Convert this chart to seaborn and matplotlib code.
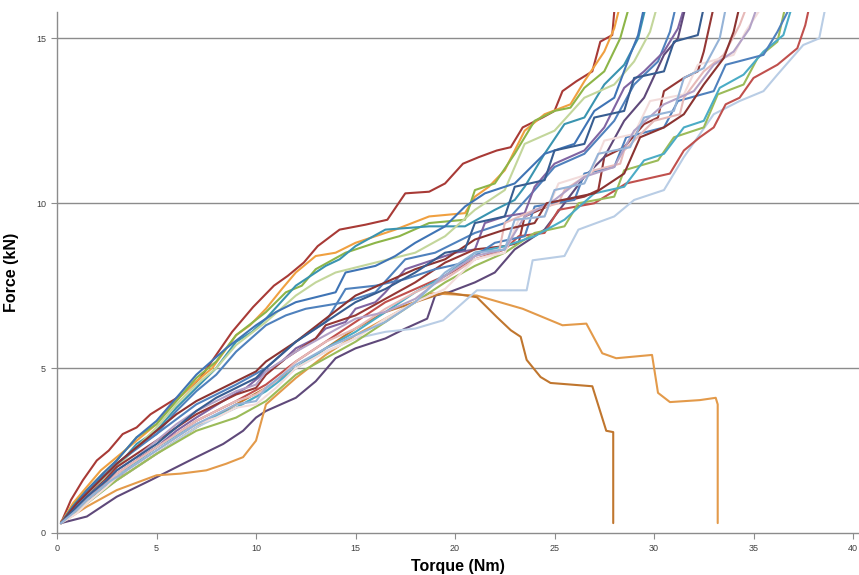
import matplotlib
matplotlib.use("Agg")
import matplotlib.pyplot as plt
import seaborn as sns
import pandas as pd

# ---- data: (torque Nm, force kN) ----
darkred_x = [0.2,0.7,1.3,2.0,2.6,3.3,4.0,4.7,5.5,6.3,7.2,8.0,8.8,9.85,10.9,11.6,12.4,13.1,14.2,15.5,16.6,17.5,18.7,19.5,20.4,21.2,22.1,22.8,23.4,24.4,25.0,25.4,26.1,26.9,27.3,27.9,28.1]
darkred_y = [0.3,1.0,1.6,2.2,2.5,3.0,3.2,3.6,3.9,4.2,4.7,5.4,6.1,6.85,7.5,7.8,8.2,8.7,9.2,9.35,9.5,10.3,10.35,10.6,11.2,11.4,11.6,11.7,12.3,12.6,12.8,13.4,13.7,14.0,14.9,15.1,16.5]

orange_x = [0.2,0.8,1.5,2.2,3,3.8,5,5.8,7,7.8,9,9.7,10.5,11.3,12,13,14,15,16,17,18.7,19.6,20.5,21,21.7,22.5,23.5,24.5,25.8,26.5,27.5,28,28.5]
orange_y = [0.3,0.9,1.4,1.9,2.3,2.7,3.3,3.9,4.6,5.0,6.0,6.3,6.8,7.4,7.9,8.4,8.5,8.8,9.0,9.2,9.6,9.65,9.7,10.2,10.5,11.0,12.2,12.7,13.0,13.7,14.6,15.3,16.5]

green_x = [0.2,0.9,1.5,2.3,3,4,5,6,7,8,9,10.5,11.5,12.3,13,14.5,16,17.2,18.7,20.5,21,22,23,23.5,24,25,25.8,26.5,27.5,28.3,29]
green_y = [0.3,0.9,1.3,1.8,2.2,2.9,3.3,4.0,4.7,5.2,6.0,6.7,7.3,7.5,8.0,8.5,8.8,9.0,9.4,9.5,10.4,10.6,11.5,12.0,12.5,12.8,12.9,13.5,14.0,15.0,16.5]

teal_x = [0.2,0.8,1.5,2.2,3,4,5,6,7,8,9,9.8,10.5,12,13.5,14.2,15,16.5,18.7,20.5,22,23,23.5,24.5,25.5,26.5,27.5,28.5,29.2,29.8]
teal_y = [0.3,0.8,1.2,1.7,2.0,2.7,3.1,3.8,4.4,5.0,5.8,6.1,6.5,7.5,8.1,8.3,8.7,9.2,9.3,9.3,9.8,10.1,10.5,11.5,12.4,12.6,13.6,14.2,15.0,16.5]

lightgreen_x = [0.2,1,1.5,2.3,3,4,5,6,7,8,9,10.5,12,13,14,16,18,19.5,21,22.5,23.5,25,26.5,28,29,29.8,30.4]
lightgreen_y = [0.3,0.8,1.1,1.6,2.0,2.6,3.2,3.9,4.5,5.0,5.7,6.4,7.2,7.6,7.9,8.2,8.5,9.0,9.8,10.4,11.8,12.2,13.2,13.6,14.3,15.2,16.5]

blue_x = [0.2,0.8,1.5,2.3,3,4,5,6,7,8,9,10.5,11.5,12.5,14.5,16,17.5,19,20,21,22.5,24,25,26.5,28,29,30.2,30.8,31.3]
blue_y = [0.3,0.7,1.2,1.7,2.1,2.6,3.0,3.7,4.3,4.8,5.5,6.3,6.6,6.8,7.0,7.3,8.3,8.5,8.8,9.1,9.4,10.4,11.1,11.5,12.5,13.6,14.3,15.2,16.5]

blue2_x = [0.2,0.8,1.5,2.3,3,4,5,6,7,8.5,10,11,12,14,14.5,16,17,18,19.5,20.5,21.5,23,24.5,26,27,28,28.8,29.2,29.7]
blue2_y = [0.3,0.8,1.3,1.8,2.2,2.9,3.4,4.1,4.8,5.6,6.3,6.7,7.0,7.3,7.9,8.1,8.4,8.8,9.3,9.9,10.3,10.6,11.5,11.8,12.8,13.2,14.5,15.1,16.5]

purple_x = [0.2,0.8,1.5,2.5,3.3,4.2,5,6,7,7.8,8.6,9.5,10.5,11.3,12,13,13.5,14.5,15,16,16.5,17.5,19,20,21,21.5,22.5,23.5,24,25,26.5,27.5,28.5,29.5,30.5,31.2,31.8]
purple_y = [0.3,0.7,1.0,1.5,1.8,2.3,2.6,3.1,3.5,3.8,4.1,4.4,4.9,5.2,5.6,5.9,6.2,6.4,6.8,7.0,7.3,8.0,8.3,8.5,8.6,9.4,9.6,9.7,10.5,11.2,11.6,12.3,13.5,14.0,14.6,15.3,16.5]

darkred2_x = [0.2,0.9,1.5,2.4,3,4,5,6,7,8,9,10,10.5,11.5,12,13,13.5,14.5,15,16.5,18,19.5,21,22.5,23.2,23.5,25,26.5,27.2,27.5,28.5,29.5,30.2,30.5,31.5,32.2,32.5,33.2]
darkred2_y = [0.3,0.7,1.1,1.6,2.0,2.4,2.8,3.2,3.6,3.9,4.2,4.4,4.8,5.3,5.5,5.9,6.3,6.5,6.6,7.1,7.6,8.2,8.6,8.7,8.8,9.6,10.0,10.2,10.4,11.4,11.7,12.4,12.6,13.4,13.8,14.0,14.6,16.5]

darkpurple_x = [0.2,1.5,3,4.7,7.0,8.35,9.35,10.0,10.5,12,13,14,15,16.5,17.5,18.6,19,19.7,21,22,23,24.5,25.5,26.5,27.5,28.5,29.5,30.5,31.2,31.8]
darkpurple_y = [0.3,0.5,1.1,1.6,2.3,2.7,3.1,3.5,3.7,4.1,4.6,5.3,5.6,5.9,6.2,6.5,7.2,7.3,7.6,7.9,8.6,9.2,10.0,10.8,11.4,12.5,13.2,14.5,15.0,16.5]

orangeB_x = [0.2,1.5,3,5,6.2,7.5,8.5,9.35,10,10.5,12,13.5,15,16.5,18,18.7,21.1,23.4,25.4,26.6,27.4,28.1,29.9,30.2,30.8,32.3,33.1,33.2,33.2]
orangeB_y = [0.3,0.8,1.3,1.75,1.8,1.9,2.1,2.3,2.8,3.9,4.7,5.4,6.0,6.5,7.0,7.27,7.2,6.8,6.3,6.35,5.45,5.3,5.4,4.25,3.97,4.03,4.1,3.9,0.3]

orangeA_x = [0.2,1.5,3,5,7,9,10.5,12,13.5,15,16.5,18,19.5,21.1,22.1,22.8,23.3,23.6,24.3,24.8,26.9,27.6,27.95,27.95]
orangeA_y = [0.35,1.0,1.6,2.4,3.2,3.9,4.4,5.0,5.6,6.2,6.7,7.0,7.3,7.15,6.55,6.15,5.95,5.25,4.73,4.55,4.45,3.1,3.06,0.3]

lightblue_x = [0.2,1.5,3,5,7,9,10.5,12,13.5,15,16.5,18,19.4,21.1,23.6,23.9,25.5,26.2,28,29,30.5,31.5,33,34.3,35.5,36.2,37.5,38.3,38.8]
lightblue_y = [0.3,0.9,1.6,2.4,3.2,3.8,4.3,5.0,5.5,5.9,6.1,6.2,6.45,7.36,7.36,8.27,8.4,9.2,9.6,10.1,10.4,11.4,12.7,13.1,13.4,13.9,14.8,15.0,16.5]

red2_x = [0.2,1.5,3,5,7,9,10.5,12,13.5,15,16.5,18,19.5,21,22.5,23.2,24.5,25.2,27,28.6,30.8,31.5,32.3,33.0,33.6,34.3,35.0,36.2,37.2,37.6,38.0]
red2_y = [0.3,1.0,1.8,2.6,3.4,4.0,4.5,5.2,5.8,6.4,7.0,7.4,7.8,8.3,8.6,9.0,9.1,9.8,10.0,10.6,10.9,11.6,12.0,12.3,13.0,13.2,13.8,14.2,14.7,15.4,16.5]

green2_x = [0.2,1.5,3,5,7,9,10.5,12,13.5,15,16.5,18,19.5,21,22.5,24,25.5,26.2,28,28.5,30.2,31,32.5,33.2,34.5,35.2,36.2,36.8]
green2_y = [0.3,0.9,1.6,2.4,3.1,3.5,4.0,4.8,5.3,5.8,6.4,7.0,7.6,8.1,8.5,9.1,9.3,10.0,10.2,11.0,11.3,12.0,12.3,13.3,13.6,14.4,14.9,16.5]

teal2_x = [0.2,1.5,3,5,7,9,10.5,12,13.5,15,16.5,18,19.5,21,22.5,24,25.5,27,28.5,29.5,30.5,31.5,32.5,33.3,34.5,35.5,36.5,37.2]
teal2_y = [0.3,1.0,1.7,2.6,3.3,3.8,4.3,5.0,5.6,6.1,6.7,7.3,7.8,8.5,8.7,9.0,9.5,10.3,10.5,11.3,11.5,12.3,12.5,13.5,13.9,14.6,15.1,16.5]

blue3_x = [0.2,1.5,3,5,7,9,10.5,12,13.5,14.5,16,17.5,19,20.5,22,23.5,24,26,26.5,28,28.6,30.5,31.2,33,33.6,35.5,36.2,37.3]
blue3_y = [0.3,1.2,2.1,3.0,3.9,4.5,5.0,5.8,6.4,7.4,7.5,7.7,8.0,8.2,8.8,9.0,9.9,10.1,10.9,11.1,12.0,12.3,13.1,13.4,14.2,14.5,15.2,16.5]

pink_x = [0.2,1,1.5,2.5,3,4,5,6,7,8,9,10,11,12,13,13.5,15,16.5,18,19.5,21,22.2,22.5,24,25.2,25.5,27,28.3,28.5,30,31.3,31.5,32.5,33.5,34.3,35.0]
pink_y = [0.3,0.7,1.0,1.5,1.8,2.2,2.6,3.0,3.4,3.7,4.0,4.2,4.6,5.2,5.6,5.8,6.2,6.8,7.3,7.7,8.3,8.5,9.4,9.8,10.0,10.4,11.0,11.2,11.6,12.5,12.7,13.2,14.0,14.5,15.4,16.5]

lightpink_x = [0.2,1,1.5,2.5,3,4,5,6,7,8,9,10,11,12,13.5,15,16.5,18,19.5,21,22.5,23.2,24.5,25.2,26.8,27.5,29,29.8,31.5,32.2,34,34.6,36.0]
lightpink_y = [0.3,0.6,0.9,1.4,1.7,2.1,2.5,2.9,3.3,3.5,3.8,3.9,4.4,5.0,5.5,5.9,6.5,7.0,7.4,8.3,8.5,9.5,9.6,10.6,10.9,11.9,12.1,13.1,13.3,14.2,14.5,15.2,16.5]

lavender_x = [0.2,1,1.5,2.5,3,4,5,6,7,8,9,10,10.5,12,13.5,15,16.5,18,19.5,21,22.5,23.5,25,26.5,28,29,30.5,32,33,34,34.8,35.5]
lavender_y = [0.3,0.8,1.1,1.6,1.9,2.3,2.8,3.3,3.7,4.0,4.3,4.5,4.9,5.5,6.0,6.5,6.7,7.1,7.8,8.4,8.6,9.6,10.1,10.8,11.1,12.2,13.0,13.4,14.2,14.6,15.3,16.5]

darkred3_x = [0.2,1,1.5,2.5,3,4,5,6,7,8,9,10,10.5,12,13.5,15,16.5,18,19.5,21,22.5,24,24.6,27,28.5,29.3,30.5,31.5,32.5,33.5,34,34.5]
darkred3_y = [0.3,0.9,1.2,1.8,2.1,2.6,3.1,3.6,4.0,4.3,4.6,4.9,5.2,5.8,6.5,7.2,7.6,8.0,8.3,8.9,9.2,9.4,10.0,10.3,10.9,12.0,12.3,12.7,13.6,14.4,15.2,16.5]

bluedark_x = [0.2,1,1.5,2.5,3,4,5,6,7,8,9,10,10.5,12,13.5,15,16.5,18,19.5,20.5,21,22.5,23,24.5,25,26.5,27,28.5,29,30.5,31,32.2,32.7]
bluedark_y = [0.3,0.8,1.1,1.6,1.9,2.3,2.7,3.2,3.7,4.1,4.4,4.7,5.0,5.8,6.4,7.0,7.4,7.9,8.5,8.6,9.4,9.6,10.5,10.7,11.6,11.8,12.6,12.8,13.8,14.0,14.9,15.1,16.5]

skyblue_x = [0.2,1,1.5,2.5,3,4,5,6,7,8,9,10,10.5,12,13.5,15,16.5,18,19.5,21,22.5,23,24.5,25,26.5,27.2,28.8,29.5,31,31.5,32.5,33.3,33.8]
skyblue_y = [0.3,0.7,1.0,1.5,1.7,2.1,2.5,2.9,3.3,3.6,3.9,4.0,4.4,5.1,5.6,6.0,6.4,7.0,7.9,8.5,8.6,9.5,9.6,10.4,10.6,11.5,11.7,12.6,12.8,13.8,14.1,15.0,16.5]

series = {
    "darkred": (darkred_x, darkred_y, "#A83A36"),
    "orange": (orange_x, orange_y, "#F0A040"),
    "green": (green_x, green_y, "#8DB548"),
    "teal": (teal_x, teal_y, "#3A94B0"),
    "lightgreen": (lightgreen_x, lightgreen_y, "#C3D69B"),
    "blue": (blue_x, blue_y, "#4F81BD"),
    "blue2": (blue2_x, blue2_y, "#3F74B5"),
    "purple": (purple_x, purple_y, "#8064A2"),
    "darkred2": (darkred2_x, darkred2_y, "#953735"),
    "darkpurple": (darkpurple_x, darkpurple_y, "#5F497A"),
    "orangeB": (orangeB_x, orangeB_y, "#E39A4A"),
    "orangeA": (orangeA_x, orangeA_y, "#C0762E"),
    "lightblue": (lightblue_x, lightblue_y, "#B9CDE5"),
    "red2": (red2_x, red2_y, "#C0504D"),
    "green2": (green2_x, green2_y, "#9BBB59"),
    "teal2": (teal2_x, teal2_y, "#4BACC6"),
    "blue3": (blue3_x, blue3_y, "#4F81BD"),
    "pink": (pink_x, pink_y, "#E6B9B8"),
    "lightpink": (lightpink_x, lightpink_y, "#F2DCDB"),
    "lavender": (lavender_x, lavender_y, "#B3A2C7"),
    "darkred3": (darkred3_x, darkred3_y, "#8B3331"),
    "bluedark": (bluedark_x, bluedark_y, "#375D91"),
    "skyblue": (skyblue_x, skyblue_y, "#95B3D7"),
}

x_ticks = [0, 5, 10, 15, 20, 25, 30, 35, 40]
y_ticks = [0, 5, 10, 15]

rows = []
for name, (xs, ys, _c) in series.items():
    for i, (xv, yv) in enumerate(zip(xs, ys)):
        rows.append({"series": name, "idx": i, "torque": xv, "force": yv})
df = pd.DataFrame(rows)
palette = {k: v[2] for k, v in series.items()}

sns.set_theme(style="white")
plt.rcParams["font.family"] = ["Liberation Sans", "DejaVu Sans"]

fig = plt.figure(figsize=(8.59, 5.75), dpi=100)
ax = fig.add_axes([57/859, 1 - 533/575, 802/859, (533 - 12)/575])

for yv in [5, 10, 15]:
    ax.axhline(yv, color="#8c8c8c", lw=1.0, zorder=0)

sns.lineplot(data=df, x="torque", y="force", hue="series", palette=palette,
             sort=False, estimator=None, legend=False, linewidth=1.5, ax=ax)
for ln in ax.get_lines():
    ln.set_solid_joinstyle("round")
    ln.set_solid_capstyle("round")

ax.set_xlim(0, 40.3)
ax.set_ylim(0, 15.8)
ax.set_xticks(x_ticks)
ax.set_yticks(y_ticks)
ax.set_xticklabels([str(t) for t in x_ticks])
ax.set_yticklabels([str(t) for t in y_ticks])
ax.tick_params(axis="both", labelsize=6.5, colors="#404040", length=4, width=0.8,
               direction="out", pad=4)
ax.tick_params(axis="both", color="#8c8c8c")
ax.xaxis.set_ticks_position("bottom")
ax.yaxis.set_ticks_position("left")

for side in ["top", "right"]:
    ax.spines[side].set_visible(False)
for side in ["left", "bottom"]:
    ax.spines[side].set_color("#8c8c8c")
    ax.spines[side].set_linewidth(1.0)

ax.set_xlabel("Torque (Nm)", fontsize=11.5, fontweight="bold", color="black", labelpad=4)
ax.set_ylabel("Force (kN)", fontsize=11.5, fontweight="bold", color="black", labelpad=12)
ax.grid(False)

fig.savefig("out.png", dpi=100)
